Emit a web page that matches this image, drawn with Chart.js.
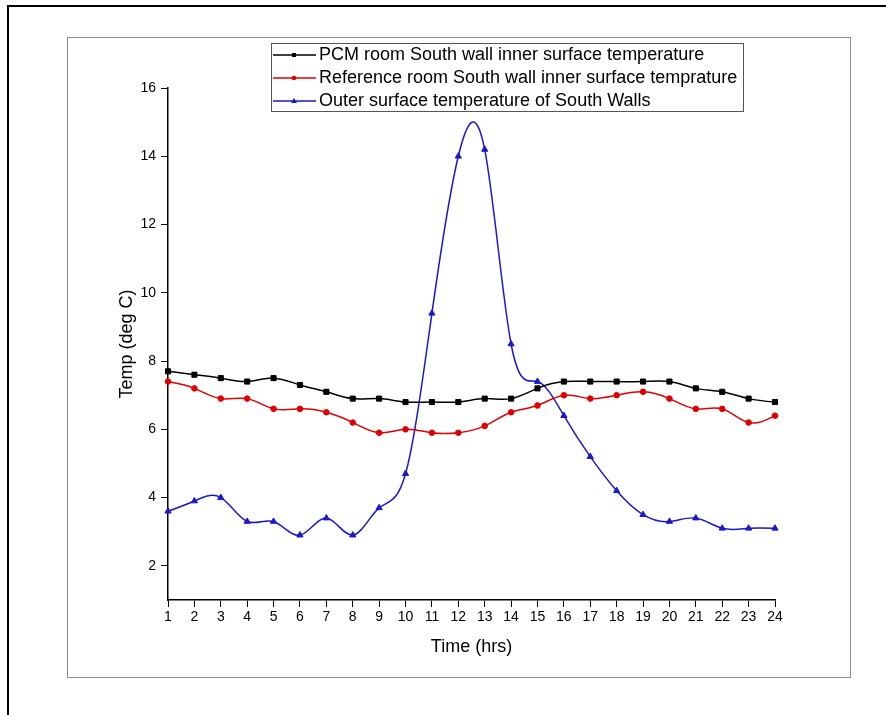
<!DOCTYPE html>
<html>
<head>
<meta charset="utf-8">
<script src="https://cdn.jsdelivr.net/npm/chart.js@4/dist/chart.umd.min.js"></script>
<style>
  html, body { margin: 0; padding: 0; background: #fff; }
  #wrap { position: relative; width: 886px; height: 715px; overflow: hidden; }
  #edge { position: absolute; left: 7px; top: 5px; width: 900px; height: 720px; border-left: 2px solid #000; border-top: 2px solid #000; }
  #frame { position: absolute; left: 67px; top: 37px; width: 782px; height: 639px; border: 1px solid #8c8c8c; }
  #temp-chart { position: absolute; left: 0; top: 0; }
</style>
</head>
<body>
<div id="wrap">
  <div id="edge"></div>
  <div id="frame"></div>
  <canvas id="temp-chart" width="886" height="715"></canvas>
</div>
<script>
// data
const hours = [1,2,3,4,5,6,7,8,9,10,11,12,13,14,15,16,17,18,19,20,21,22,23,24];
const pcmInner = [7.7,7.6,7.5,7.4,7.5,7.3,7.1,6.9,6.9,6.8,6.8,6.8,6.9,6.9,7.2,7.4,7.4,7.4,7.4,7.4,7.2,7.1,6.9,6.8];
const refInner = [7.4,7.2,6.9,6.9,6.6,6.6,6.5,6.2,5.9,6.0,5.9,5.9,6.1,6.5,6.7,7.0,6.9,7.0,7.1,6.9,6.6,6.6,6.2,6.4];
const outerSurface = [3.6,3.9,4.0,3.3,3.3,2.9,3.4,2.9,3.7,4.7,9.4,14.0,14.2,8.5,7.4,6.4,5.2,4.2,3.5,3.3,3.4,3.1,3.1,3.1];
const yTicks = [2,4,6,8,10,12,14,16];

const seriesNames = [
  'PCM room South wall inner surface temperature',
  'Reference room South wall inner surface temprature',
  'Outer surface temperature of South Walls'
];
const seriesColors = ['#000000', '#e00000', '#1818cc'];
const seriesShapes = ['rect', 'circle', 'triangle'];

Chart.defaults.font.family = "Arial, 'Liberation Sans', sans-serif";
Chart.defaults.color = '#000';

// small line + marker picture for the legend
function legendIcon(color, shape) {
  const c = document.createElement('canvas');
  c.width = 44; c.height = 12;
  const g = c.getContext('2d');
  g.strokeStyle = color; g.fillStyle = color; g.lineWidth = 1.3;
  g.beginPath(); g.moveTo(0, 6); g.lineTo(44, 6); g.stroke();
  g.beginPath();
  if (shape === 'rect') g.rect(20, 4, 4, 4);
  else if (shape === 'circle') g.arc(22, 6, 2.3, 0, Math.PI * 2);
  else { g.moveTo(22, 3); g.lineTo(25, 8); g.lineTo(19, 8); g.closePath(); }
  g.fill();
  return c;
}
const legendIcons = seriesColors.map((c, i) => legendIcon(c, seriesShapes[i]));

// natural cubic spline slopes (Origin style "spline" connect)
function splineSlopes(xs, ys) {
  const n = xs.length;
  const h = [], d = [], M = new Array(n).fill(0), cp = [], dp = [];
  for (let i = 0; i < n - 1; i++) { h[i] = xs[i + 1] - xs[i]; d[i] = (ys[i + 1] - ys[i]) / h[i]; }
  for (let i = 1; i < n - 1; i++) {
    const a = h[i - 1], b = 2 * (h[i - 1] + h[i]), c = h[i], r = 6 * (d[i] - d[i - 1]);
    if (i === 1) { cp[i] = c / b; dp[i] = r / b; }
    else { const m = b - a * cp[i - 1]; cp[i] = c / m; dp[i] = (r - a * dp[i - 1]) / m; }
  }
  for (let i = n - 2; i >= 1; i--) M[i] = dp[i] - cp[i] * M[i + 1];
  const s = [];
  for (let i = 0; i < n - 1; i++) s[i] = d[i] - h[i] * (2 * M[i] + M[i + 1]) / 6;
  s[n - 1] = d[n - 2] + h[n - 2] * (M[n - 2] + 2 * M[n - 1]) / 6;
  return s;
}

const splinePlugin = {
  id: 'originSpline',
  beforeDatasetDraw(chart, args) {
    const meta = args.meta;
    meta.dataset.updateControlPoints(chart.chartArea, meta.iScale.axis);
    const pts = meta.data;
    const xs = pts.map(p => p.x), ys = pts.map(p => p.y);
    const s = splineSlopes(xs, ys);
    pts.forEach((p, i) => {
      const hl = i > 0 ? xs[i] - xs[i - 1] : 0;
      const hr = i < pts.length - 1 ? xs[i + 1] - xs[i] : 0;
      p.cp1x = xs[i] - hl / 3; p.cp1y = ys[i] - s[i] * hl / 3;
      p.cp2x = xs[i] + hr / 3; p.cp2y = ys[i] + s[i] * hr / 3;
    });
  }
};

// move the legend into the plot and draw its frame
const legendBoxPlugin = {
  id: 'legendBox',
  beforeDraw(chart) {
    const lg = chart.legend;
    lg.left = 273; lg.top = 41; lg.right = 745; lg.bottom = 300;
  },
  afterDraw(chart) {
    const ctx = chart.ctx;
    ctx.save();
    ctx.strokeStyle = '#555';
    ctx.lineWidth = 1;
    ctx.strokeRect(271.5, 43.5, 472, 68);
    ctx.restore();
  }
};

const axisGrid = { display: true, drawOnChartArea: false, drawTicks: true, tickLength: 7, color: '#000', lineWidth: 1 };
const axisBorder = { display: true, color: '#000', width: 1.5 };

const datasets = [pcmInner, refInner, outerSurface].map((vals, i) => ({
  label: seriesNames[i],
  data: vals,
  borderColor: seriesColors[i],
  backgroundColor: seriesColors[i],
  borderWidth: 1.5,
  pointStyle: seriesShapes[i],
  pointRadius: [3.6, 2.8, 3.6][i],
  pointBorderWidth: 1,
  tension: 0.4
}));

new Chart(document.getElementById('temp-chart'), {
  type: 'line',
  data: { labels: hours, datasets: datasets },
  plugins: [splinePlugin, legendBoxPlugin],
  options: {
    responsive: false,
    animation: false,
    layout: { padding: { left: 116, right: 111, top: 88, bottom: 57 } },
    plugins: {
      tooltip: { enabled: false },
      legend: {
        position: 'chartArea',
        align: 'start',
        labels: {
          color: '#000',
          font: { size: 18 },
          usePointStyle: true,
          pointStyleWidth: 32,
          padding: 5,
          generateLabels: chart => Chart.defaults.plugins.legend.labels.generateLabels(chart)
            .map((l, i) => Object.assign(l, { pointStyle: legendIcons[i] }))
        }
      }
    },
    scales: {
      x: {
        type: 'category',
        offset: false,
        grid: axisGrid,
        border: axisBorder,
        ticks: { color: '#000', font: { size: 14 }, padding: 2, autoSkip: false, maxRotation: 0 },
        title: { display: true, text: 'Time (hrs)', color: '#000', font: { size: 18 }, padding: 0 },
        afterFit: scale => { scale.height = 58; }
      },
      y: {
        min: 1,
        max: 16,
        afterBuildTicks: scale => { scale.ticks = yTicks.map(v => ({ value: v })); },
        grid: axisGrid,
        border: axisBorder,
        ticks: { color: '#000', font: { size: 14 }, padding: 5 },
        title: { display: true, text: 'Temp (deg C)', color: '#000', font: { size: 18 }, padding: 0 },
        afterFit: scale => { scale.width = 52; }
      }
    }
  }
});
</script>
</body>
</html>
